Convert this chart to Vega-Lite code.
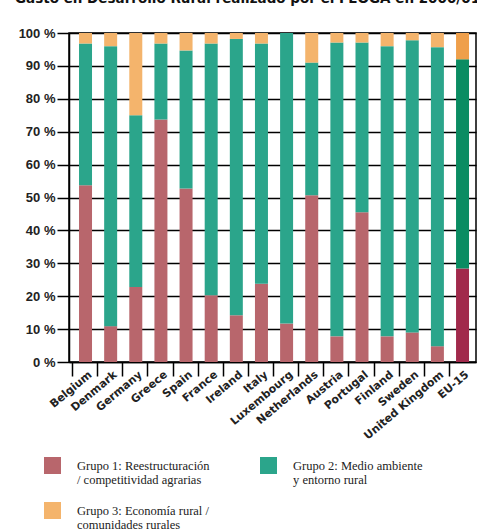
{
  "$schema": "https://vega.github.io/schema/vega-lite/v6.json",
  "autosize": "none",
  "padding": {"left": 69, "top": 33, "right": 1, "bottom": 170},
  "width": 407,
  "height": 329,
  "background": "white",
  "title": {
    "text": "Gasto en Desarrollo Rural realizado por el FEOGA en 2000/01",
    "anchor": "start",
    "frame": "group",
    "dx": -54,
    "offset": 22,
    "font": "DejaVu Sans",
    "fontSize": 13.5,
    "fontWeight": "bold",
    "color": "#111111"
  },
  "data": {
    "values": [
      {"country": "Belgium", "grp": "g1", "o": 1, "v": 53.7},
      {"country": "Belgium", "grp": "g2", "o": 2, "v": 43.1},
      {"country": "Belgium", "grp": "g3", "o": 3, "v": 3.2},
      {"country": "Denmark", "grp": "g1", "o": 1, "v": 10.9},
      {"country": "Denmark", "grp": "g2", "o": 2, "v": 85.1},
      {"country": "Denmark", "grp": "g3", "o": 3, "v": 4.0},
      {"country": "Germany", "grp": "g1", "o": 1, "v": 22.8},
      {"country": "Germany", "grp": "g2", "o": 2, "v": 52.2},
      {"country": "Germany", "grp": "g3", "o": 3, "v": 25.0},
      {"country": "Greece", "grp": "g1", "o": 1, "v": 73.7},
      {"country": "Greece", "grp": "g2", "o": 2, "v": 23.1},
      {"country": "Greece", "grp": "g3", "o": 3, "v": 3.2},
      {"country": "Spain", "grp": "g1", "o": 1, "v": 52.7},
      {"country": "Spain", "grp": "g2", "o": 2, "v": 42.0},
      {"country": "Spain", "grp": "g3", "o": 3, "v": 5.3},
      {"country": "France", "grp": "g1", "o": 1, "v": 20.3},
      {"country": "France", "grp": "g2", "o": 2, "v": 76.5},
      {"country": "France", "grp": "g3", "o": 3, "v": 3.2},
      {"country": "Ireland", "grp": "g1", "o": 1, "v": 14.2},
      {"country": "Ireland", "grp": "g2", "o": 2, "v": 84.0},
      {"country": "Ireland", "grp": "g3", "o": 3, "v": 1.8},
      {"country": "Italy", "grp": "g1", "o": 1, "v": 23.8},
      {"country": "Italy", "grp": "g2", "o": 2, "v": 73.0},
      {"country": "Italy", "grp": "g3", "o": 3, "v": 3.2},
      {"country": "Luxembourg", "grp": "g1", "o": 1, "v": 11.7},
      {"country": "Luxembourg", "grp": "g2", "o": 2, "v": 88.3},
      {"country": "Luxembourg", "grp": "g3", "o": 3, "v": 0},
      {"country": "Netherlands", "grp": "g1", "o": 1, "v": 50.7},
      {"country": "Netherlands", "grp": "g2", "o": 2, "v": 40.3},
      {"country": "Netherlands", "grp": "g3", "o": 3, "v": 9.0},
      {"country": "Austria", "grp": "g1", "o": 1, "v": 7.8},
      {"country": "Austria", "grp": "g2", "o": 2, "v": 89.3},
      {"country": "Austria", "grp": "g3", "o": 3, "v": 2.9},
      {"country": "Portugal", "grp": "g1", "o": 1, "v": 45.5},
      {"country": "Portugal", "grp": "g2", "o": 2, "v": 51.6},
      {"country": "Portugal", "grp": "g3", "o": 3, "v": 2.9},
      {"country": "Finland", "grp": "g1", "o": 1, "v": 7.8},
      {"country": "Finland", "grp": "g2", "o": 2, "v": 88.2},
      {"country": "Finland", "grp": "g3", "o": 3, "v": 4.0},
      {"country": "Sweden", "grp": "g1", "o": 1, "v": 9.0},
      {"country": "Sweden", "grp": "g2", "o": 2, "v": 88.8},
      {"country": "Sweden", "grp": "g3", "o": 3, "v": 2.2},
      {"country": "United Kingdom", "grp": "g1", "o": 1, "v": 4.8},
      {"country": "United Kingdom", "grp": "g2", "o": 2, "v": 90.9},
      {"country": "United Kingdom", "grp": "g3", "o": 3, "v": 4.3},
      {"country": "EU-15", "grp": "e1", "o": 1, "v": 28.4},
      {"country": "EU-15", "grp": "e2", "o": 2, "v": 63.6},
      {"country": "EU-15", "grp": "e3", "o": 3, "v": 8.0}
    ]
  },
  "config": {
    "view": {"stroke": "black", "strokeWidth": 1.5},
    "axis": {"domainColor": "black", "domainWidth": 1.5, "tickColor": "black", "tickWidth": 1.5, "labelColor": "#222222"}
  },
  "mark": {"type": "bar"},
  "encoding": {
    "x": {
      "field": "country",
      "type": "nominal",
      "sort": null,
      "scale": {"paddingInner": 0.483, "paddingOuter": 0.338, "align": 0.59},
      "axis": {
        "title": null,
        "labelAngle": -40,
        "labelAlign": "right",
        "labelBaseline": "middle",
        "labelFont": "DejaVu Sans",
        "labelFontWeight": "bold",
        "labelFontSize": 11,
        "tickSize": 14,
        "tickOffset": -13.5,
        "labelOffset": 18,
        "labelPadding": -3,
        "grid": false
      }
    },
    "y": {
      "field": "v",
      "type": "quantitative",
      "stack": "zero",
      "scale": {"domain": [0, 100], "nice": false},
      "axis": {
        "title": null,
        "values": [0, 10, 20, 30, 40, 50, 60, 70, 80, 90, 100],
        "labelExpr": "datum.value + ' %'",
        "labelFont": "Liberation Sans",
        "labelFontWeight": "bold",
        "labelFontSize": 13,
        "tickSize": 12,
        "labelPadding": 2,
        "grid": true,
        "gridColor": "black",
        "gridWidth": 1.5,
        "gridOpacity": 1
      }
    },
    "order": {"field": "o", "type": "quantitative"},
    "color": {
      "field": "grp",
      "type": "nominal",
      "scale": {
        "domain": ["g1", "g2", "g3", "e1", "e2", "e3"],
        "range": ["#b8666c", "#2ba58b", "#f4b46c", "#a1294b", "#0a8c62", "#ef9f4a"]
      },
      "legend": {
        "values": ["g1", "g2", "g3"],
        "title": null,
        "orient": "none",
        "legendX": -25,
        "legendY": 424,
        "direction": "horizontal",
        "columns": 2,
        "columnPadding": 50,
        "rowPadding": 16,
        "symbolType": "square",
        "symbolSize": 289,
        "symbolStrokeWidth": 0,
        "labelOffset": 16,
        "labelFont": "Liberation Serif",
        "labelFontSize": 12.5,
        "labelColor": "#222222",
        "labelLimit": 300,
        "labelExpr": "datum.value == 'g1' ? ['Grupo 1: Reestructuración', '/ competitividad agrarias'] : datum.value == 'g2' ? ['Grupo 2: Medio ambiente', 'y entorno rural'] : ['Grupo 3: Economía rural /', 'comunidades rurales']",
        "encode": {"labels": {"update": {"lineHeight": {"value": 14}}}}
      }
    }
  }
}
